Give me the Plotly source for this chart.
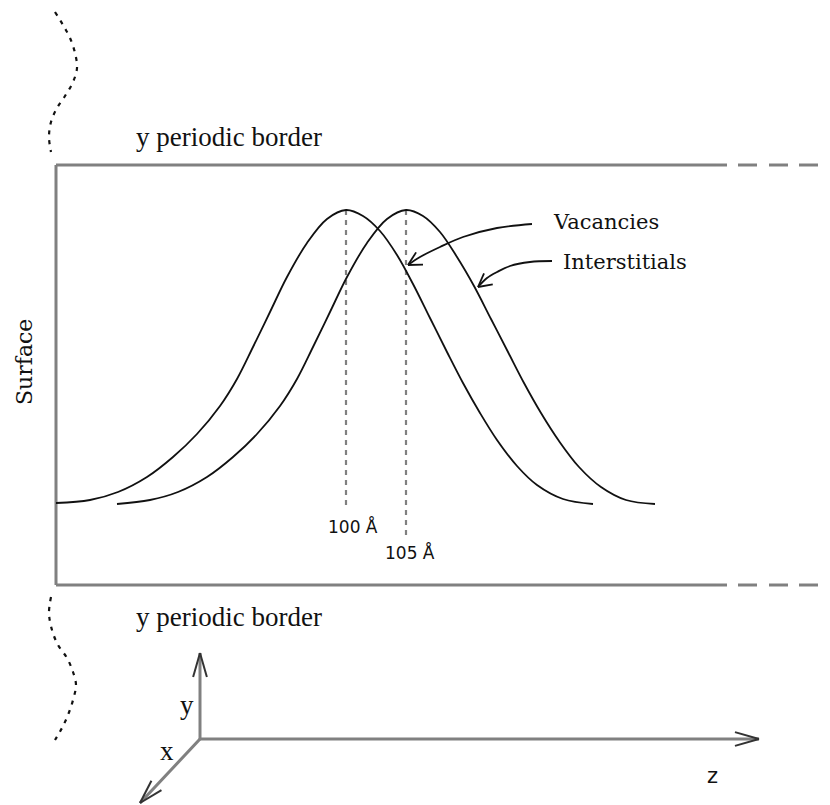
import math
import plotly.graph_objects as go

W, H = 830, 805
PAGE_PAD = 8  # default body margin of the html page

vac_x = [56, 90, 118, 147, 173, 197, 220, 237, 253, 270, 287, 307, 327, 346,
         363, 380, 397, 413, 430, 447, 463, 480, 497, 517, 537, 563, 593]
vac_y = [503, 500, 492, 477, 457, 434, 406, 379, 347, 312, 277, 243, 219, 210,
         216, 231, 255, 284, 318, 352, 383, 413, 440, 466, 485, 499, 504]

int_x = [117, 150, 178, 207, 233, 257, 280, 297, 313, 330, 347, 367, 387, 406,
         423, 440, 457, 474, 491, 508, 524, 541, 559, 579, 601, 626, 655]
int_y = [504, 500, 492, 477, 457, 434, 406, 379, 347, 312, 277, 243, 219, 210,
         216, 232, 257, 286, 319, 352, 383, 413, 441, 467, 487, 500, 504]

peak_x = [346, 406]
peak_bottom = [505, 535]
peak_labels = ["100 Å", "105 Å"]
peak_label_pos = [(353, 526), (410, 552)]

wave_top_x = [55, 63, 70, 75, 77, 73, 65, 57, 51, 49, 51]
wave_top_y = [12, 25, 38, 53, 68, 82, 96, 108, 122, 137, 152]
wave_bot_x = [51, 49, 52, 58, 67, 73, 76, 73, 68, 62, 55]
wave_bot_y = [597, 613, 630, 645, 658, 672, 685, 700, 715, 728, 740]

vac_arrow_x = [532, 497, 463, 440, 420, 408]
vac_arrow_y = [224, 228, 237, 247, 257, 265]
int_arrow_x = [552, 530, 510, 497, 487, 478]
int_arrow_y = [261, 262, 266, 272, 278, 287]

box_left, box_top, box_bottom, box_solid_end = 56, 165, 585, 716
dash_x = [716, 727, None, 738, 757, None, 769, 788, None, 799, 818]
origin = (200, 739)
y_tip = (200, 653)
z_tip = (759, 739)
x_tip = (140, 803)

GRAY = "#808080"
INK = "#111111"


def head(tip, back, length, ang):
    dx, dy = back[0] - tip[0], back[1] - tip[1]
    n = math.hypot(dx, dy)
    ux, uy = dx / n, dy / n
    xs, ys = [], []
    for s in (1, -1):
        a = math.radians(ang) * s
        wx = ux * math.cos(a) - uy * math.sin(a)
        wy = ux * math.sin(a) + uy * math.cos(a)
        xs += [tip[0] + wx * length, tip[0], None]
        ys += [tip[1] + wy * length, tip[1], None]
    return xs, ys


def line(fig, x, y, color=INK, width=2, dash="solid", shape="linear"):
    fig.add_trace(go.Scatter(x=x, y=y, mode="lines", hoverinfo="skip",
                             line=dict(color=color, width=width, dash=dash, shape=shape)))


fig = go.Figure()

# box borders
line(fig, [box_left, box_solid_end], [box_top, box_top], GRAY, 3)
line(fig, [box_left, box_solid_end], [box_bottom, box_bottom], GRAY, 3)
line(fig, [box_left, box_left], [box_top, box_bottom], GRAY, 3)
for yy in (box_top, box_bottom):
    line(fig, dash_x, [yy if v is not None else None for v in dash_x], GRAY, 3)

# wavy dotted surface edges
line(fig, wave_top_x, wave_top_y, INK, 2.2, "4px,6px", "spline")
line(fig, wave_bot_x, wave_bot_y, INK, 2.2, "4px,6px", "spline")

# peak markers
for px, pb in zip(peak_x, peak_bottom):
    line(fig, [px, px], [210, pb], GRAY, 2.2, "5px,5px")

# profiles
line(fig, vac_x, vac_y, INK, 1.8, shape="spline")
line(fig, int_x, int_y, INK, 1.8, shape="spline")

# curved label arrows
line(fig, vac_arrow_x, vac_arrow_y, INK, 1.8, shape="spline")
hx, hy = head((vac_arrow_x[-1], vac_arrow_y[-1]), (vac_arrow_x[-3], vac_arrow_y[-3]), 15, 28)
line(fig, hx, hy, INK, 1.8)
line(fig, int_arrow_x, int_arrow_y, INK, 1.8, shape="spline")
hx, hy = head((int_arrow_x[-1], int_arrow_y[-1]), (int_arrow_x[-3], int_arrow_y[-3]), 15, 28)
line(fig, hx, hy, INK, 1.8)

# coordinate axes
for tip in (y_tip, z_tip, x_tip):
    line(fig, [origin[0], tip[0]], [origin[1], tip[1]], GRAY, 3)
    hx, hy = head(tip, origin, 25, 16)
    line(fig, hx, hy, "#333333", 2)

serif = "Liberation Serif"
slab = "DejaVu Serif"
texts = [
    ("y periodic border", 229, 137, serif, 27, 0),
    ("y periodic border", 229, 617, serif, 27, 0),
    ("Surface", 24, 362, slab, 22, -90),
    ("Vacancies", 606, 222, slab, 21, 0),
    ("Interstitials", 625, 262, slab, 21, 0),
    ("y", 187, 705, serif, 27, 0),
    ("x", 167, 751, serif, 27, 0),
    ("z", 712, 776, "DejaVu Sans", 21, 0),
]
for t, x, y, fam, sz, rot in texts:
    fig.add_annotation(x=x, y=y, text=t, showarrow=False, textangle=rot,
                       font=dict(family=fam, size=sz, color="#111111"),
                       xanchor="center", yanchor="middle")
for lab, (x, y) in zip(peak_labels, peak_label_pos):
    fig.add_annotation(x=x, y=y, text=lab, showarrow=False,
                       font=dict(family="DejaVu Sans", size=17, color="#111111"),
                       xanchor="center", yanchor="middle")

fig.update_layout(width=W, height=H, margin=dict(l=0, r=0, t=0, b=0),
                  showlegend=False, plot_bgcolor="white", paper_bgcolor="white")
fig.update_xaxes(range=[PAGE_PAD, W + PAGE_PAD], visible=False)
fig.update_yaxes(range=[H + PAGE_PAD, PAGE_PAD], visible=False)

fig.write_html("out.html")
